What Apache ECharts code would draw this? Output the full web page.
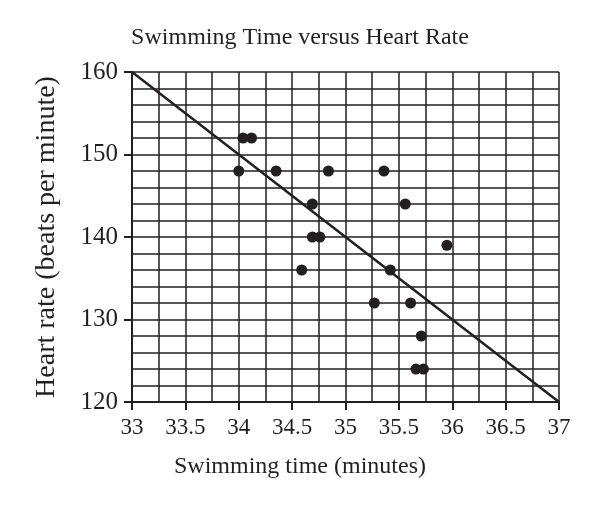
<!DOCTYPE html>
<html>
<head>
<meta charset="utf-8">
<script src="https://cdn.jsdelivr.net/npm/echarts@6/dist/echarts.min.js"></script>
<style>html,body{margin:0;padding:0;background:#fff}#c{width:600px;height:506px}</style>
</head>
<body>
<div id="c"></div>
<script>
var titleText = 'Swimming Time versus Heart Rate';
var xName = 'Swimming time (minutes)';
var yName = 'Heart rate (beats per minute)';
var swimTimes = [34.04, 34.12, 34.0, 34.35, 34.84, 35.36, 34.69, 35.56, 34.69, 34.76, 35.95, 34.59, 35.42, 35.27, 35.61, 35.71, 35.66, 35.73];
var heartRates = [152, 152, 148, 148, 148, 148, 144, 144, 140, 140, 139, 136, 136, 132, 132, 128, 124, 124];
var fitX = [33, 37];
var fitY = [160, 120];
var xMin = 33, xMax = 37, xStep = 0.5;
var yMin = 120, yMax = 160, yStep = 10;

var ink = '#231f20';
var font = '"Liberation Serif", "DejaVu Serif", serif';
var points = swimTimes.map(function (x, i) { return [x, heartRates[i]]; });
var fitLine = fitX.map(function (x, i) { return [x, fitY[i]]; });

var chart = echarts.init(document.getElementById('c'));
chart.setOption({
  backgroundColor: '#fff',
  animation: false,
  title: {
    text: titleText, left: 'center', top: 21,
    textStyle: { fontFamily: font, fontSize: 24, fontWeight: 'normal', color: ink }
  },
  grid: { left: 132, right: 41, top: 72, bottom: 104 },
  graphic: [{
    type: 'text', left: 'center', top: 455,
    style: { text: xName, font: '24px ' + font, fill: ink }
  }],
  xAxis: {
    type: 'value', min: xMin, max: xMax, interval: xStep,
    axisLine: { show: true, onZero: false, lineStyle: { color: ink, width: 2 } },
    axisTick: { show: true, length: 8, lineStyle: { color: ink, width: 2 } },
    axisLabel: { color: ink, fontFamily: font, fontSize: 23, margin: 14 },
    splitLine: { show: true, lineStyle: { color: ink, width: 1.5 } },
    minorTick: { show: false, splitNumber: 2 },
    minorSplitLine: { show: true, lineStyle: { color: ink, width: 1.5 } }
  },
  yAxis: {
    type: 'value', min: yMin, max: yMax, interval: yStep,
    name: yName, nameLocation: 'middle', nameGap: 71,
    nameTextStyle: { fontFamily: font, fontSize: 28, color: ink },
    axisLine: { show: true, onZero: false, lineStyle: { color: ink, width: 2 } },
    axisTick: { show: true, length: 8, lineStyle: { color: ink, width: 2 } },
    axisLabel: { color: ink, fontFamily: font, fontSize: 25, margin: 14 },
    splitLine: { show: true, lineStyle: { color: ink, width: 1.5 } },
    minorTick: { show: false, splitNumber: 5 },
    minorSplitLine: { show: true, lineStyle: { color: ink, width: 1.5 } }
  },
  series: [{
    type: 'line', data: fitLine, showSymbol: false, silent: true,
    lineStyle: { color: ink, width: 2.5 }, z: 3
  }, {
    type: 'scatter', data: points, symbolSize: 11,
    itemStyle: { color: ink, opacity: 1 }, z: 4
  }]
});
</script>
</body>
</html>
